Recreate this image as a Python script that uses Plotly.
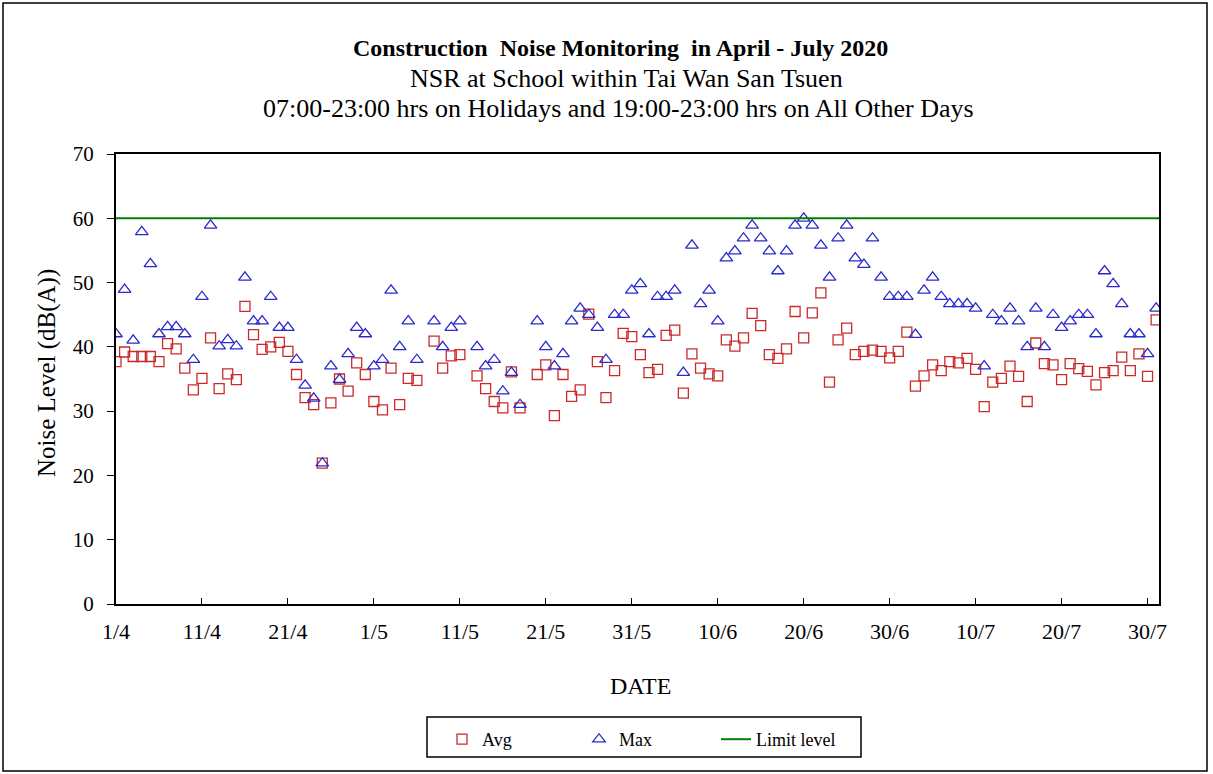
import pandas as pd
import plotly.graph_objects as go

# ---- data ----
start_date = "2020-04-01"
end_date = "2020-07-31"
missing_dates = ["2020-05-07", "2020-05-12", "2020-05-19"]

avg_values = [
    37.7, 39.2, 38.5, 38.5, 38.5, 37.7, 40.5, 39.7, 36.7, 33.3,
    35.1, 41.4, 33.5, 35.8, 34.9, 46.3, 41.9, 39.6, 40.0, 40.7,
    39.3, 35.7, 32.1, 31.0, 21.9, 31.3, 35.0, 33.1, 37.5, 35.7,
    31.5, 30.2, 36.7, 31.0, 35.1, 34.8,
    40.9, 36.7, 38.6, 38.8,
    35.5, 33.5, 31.5, 30.5, 36.1, 30.5,
    35.7, 37.2, 29.3, 35.7, 32.3, 33.3, 45.1, 37.7, 32.1, 36.3,
    42.1, 41.6, 38.8, 36.0, 36.5, 41.8, 42.6, 32.8, 38.9, 36.7,
    35.8, 35.5, 41.1, 40.1, 41.4, 45.2, 43.3, 38.8, 38.2, 39.7,
    45.5, 41.4, 45.3, 48.4, 34.5, 41.1, 42.9, 38.8, 39.3, 39.5,
    39.3, 38.3, 39.3, 42.3, 33.9, 35.5, 37.2, 36.3, 37.7, 37.5,
    38.2, 36.5, 30.7, 34.5, 35.1, 37.0, 35.4, 31.5, 40.6, 37.4,
    37.2, 34.9, 37.4, 36.6, 36.2, 34.1, 36.0, 36.3, 38.4, 36.3,
    38.9, 35.4, 44.2,
]

max_values = [
    42.0, 48.9, 41.0, 57.9, 52.9, 42.0, 43.1, 43.1, 42.0, 38.0,
    47.8, 58.9, 40.1, 41.1, 40.1, 50.8, 44.0, 44.0, 47.8, 43.0,
    43.0, 38.0, 34.0, 32.0, 21.9, 37.0, 34.9, 38.9, 43.0, 42.0,
    37.0, 38.0, 48.8, 40.0, 44.0, 38.0,
    44.0, 40.0, 43.0, 44.0,
    40.0, 37.0, 38.0, 33.1, 36.0, 31.0,
    44.0, 40.0, 37.0, 38.9, 44.0, 46.0, 45.0, 43.0, 38.0, 45.0,
    45.0, 48.8, 49.8, 42.0, 47.8, 47.8, 48.8, 36.0, 55.8, 46.7,
    48.8, 44.0, 53.8, 54.9, 56.9, 58.9, 56.9, 54.9, 51.8, 54.9,
    58.9, 60.0, 58.9, 55.8, 50.8, 56.9, 58.9, 53.8, 52.8, 56.9,
    50.8, 47.8, 47.8, 47.8, 41.9, 48.8, 50.8, 47.8, 46.7, 46.7,
    46.7, 46.0, 37.0, 45.0, 44.0, 46.0, 44.0, 40.0, 46.0, 40.0,
    45.0, 43.0, 44.0, 45.0, 45.0, 42.0, 51.8, 49.8, 46.7, 42.0,
    42.0, 38.9, 46.0,
]

limit_level = 60
tick_dates = ["2020-04-01", "2020-04-11", "2020-04-21", "2020-05-01", "2020-05-11",
              "2020-05-21", "2020-05-31", "2020-06-10", "2020-06-20", "2020-06-30",
              "2020-07-10", "2020-07-20", "2020-07-30"]
tick_labels = ["1/4", "11/4", "21/4", "1/5", "11/5", "21/5", "31/5",
               "10/6", "20/6", "30/6", "10/7", "20/7", "30/7"]
x_range = ["2020-04-01 00:00", "2020-07-31 08:00"]

dates = [d for d in pd.date_range(start_date, end_date).strftime("%Y-%m-%d")
         if d not in missing_dates]

FONT = "Liberation Serif, Times New Roman, serif"

fig = go.Figure()
fig.add_trace(go.Scatter(
    x=dates, y=avg_values, mode="markers", name="Avg",
    marker=dict(symbol="square-open", size=10, color="#cc2a2a", line=dict(width=1.3)),
))
fig.add_trace(go.Scatter(
    x=dates, y=max_values, mode="markers", name="Max",
    marker=dict(symbol="triangle-up-open", size=11, color="#2a2acc", line=dict(width=1.3)),
))
fig.add_trace(go.Scatter(
    x=x_range, y=[limit_level, limit_level], mode="lines", name="Limit level",
    line=dict(color="#008000", width=2),
))

W, H = 1213, 774
L, R, T, B = 116, 54, 154, 170
pw, ph = W - L - R, H - T - B


def px(x):
    return (x - L) / pw


def py(y):
    return (H - B - y) / ph


def note(text, x, y, size, angle=0):
    return dict(text=text, x=px(x), y=py(y), xref="paper", yref="paper",
                xanchor="center", yanchor="middle", showarrow=False,
                textangle=angle, font=dict(size=size))


fig.update_layout(
    width=W, height=H,
    margin=dict(l=L, r=R, t=T, b=B),
    paper_bgcolor="white", plot_bgcolor="white",
    font=dict(family=FONT, size=21, color="black"),
    showlegend=True,
    legend=dict(
        orientation="h", x=px(442), y=py(721), xanchor="left", yanchor="top",
        borderwidth=0, entrywidth=92, entrywidthmode="pixels",
        font=dict(family=FONT, size=18), bgcolor="rgba(0,0,0,0)",
    ),
    xaxis=dict(
        type="date", range=x_range, tickmode="array", tickvals=tick_dates, ticktext=tick_labels,
        showgrid=False, zeroline=False, showline=True, linecolor="black", linewidth=2,
        mirror=True, ticks="inside", ticklen=6, tickcolor="black",
        tickfont=dict(family=FONT, size=22), ticklabelstandoff=7,
    ),
    yaxis=dict(
        range=[0, 70], tickmode="array", tickvals=[0, 10, 20, 30, 40, 50, 60, 70],
        showgrid=False, zeroline=False, showline=True, linecolor="black", linewidth=2,
        mirror=True, ticks="outside", ticklen=7, tickcolor="black",
        tickfont=dict(family=FONT, size=21), ticklabelstandoff=9,
    ),
    shapes=[
        dict(type="rect", xref="paper", yref="paper",
             x0=px(3), x1=px(1207), y0=py(771), y1=py(3),
             line=dict(color="black", width=1.5)),
        dict(type="rect", xref="paper", yref="paper",
             x0=px(427), x1=px(861), y0=py(757), y1=py(717),
             line=dict(color="black", width=1.5)),
    ],
    annotations=[
        note("<b>Construction  Noise Monitoring  in April - July 2020</b>", 620, 48, 24),
        note("NSR at School within Tai Wan San Tsuen", 626, 78, 26),
        note("07:00-23:00 hrs on Holidays and 19:00-23:00 hrs on All Other Days", 618, 108, 26),
        note("Noise Level (dB(A))", 47, 373, 25, -90),
        note("DATE", 640, 686, 24),
    ],
)

fig.write_html("out.html", config={"displayModeBar": False},
               post_script="document.body.style.margin='0';document.body.style.overflow='hidden';")
